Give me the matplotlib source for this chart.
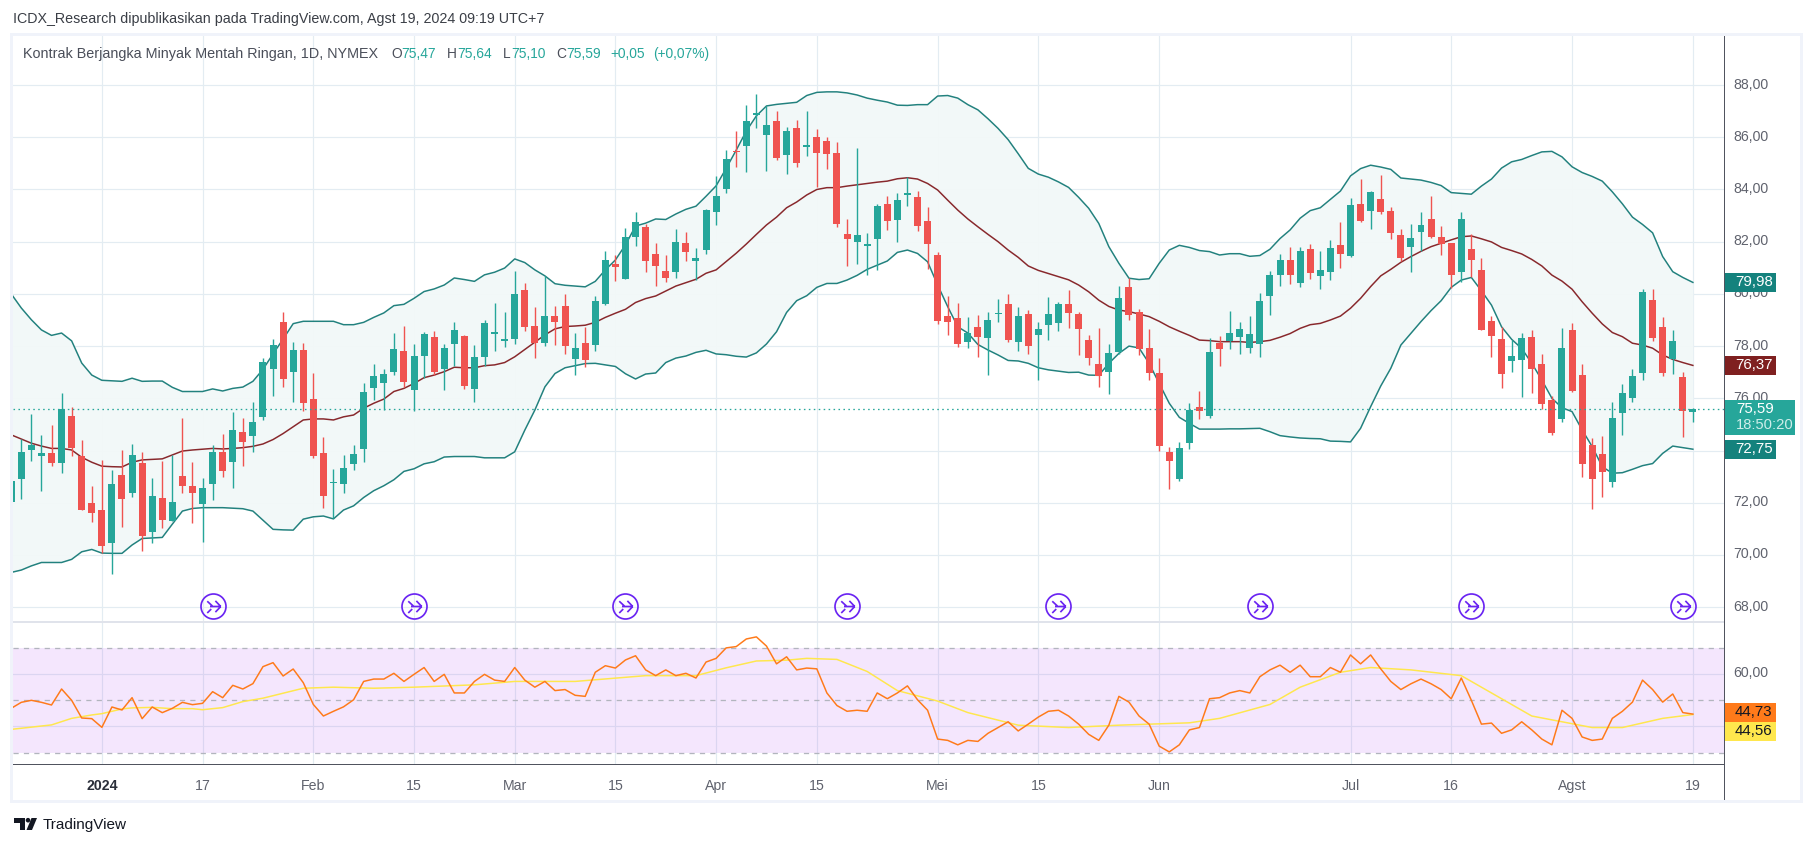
import matplotlib
matplotlib.use("Agg")
import matplotlib.pyplot as plt
from matplotlib.path import Path
from matplotlib.patches import Rectangle, Polygon, Circle
from matplotlib.transforms import IdentityTransform, ScaledTranslation

W, H = 1814, 846
plt.rcParams['font.family'] = ['Liberation Sans', 'DejaVu Sans']

open_ = [72.04,72.92,74.02,73.79,73.91,73.52,75.32,73.79,71.99,71.72,70.46,73.06,72.37,73.52,70.88,72.18,71.30,73.02,72.64,71.95,
72.72,73.94,73.56,74.71,74.56,75.29,77.12,78.92,77.01,77.85,75.97,73.91,72.75,72.72,73.48,74.06,76.40,76.59,77.01,77.81,
76.32,77.62,78.35,77.12,78.08,78.39,76.36,77.58,78.47,78.20,78.27,80.15,78.77,78.12,79.15,79.54,77.50,78.12,78.04,79.61,
81.15,80.57,82.18,82.56,81.53,80.88,80.84,81.95,81.26,81.68,83.14,84.02,85.48,85.67,86.86,86.09,86.63,85.32,86.36,85.62,
86.00,85.85,85.40,82.29,81.99,81.83,82.10,83.44,82.83,83.79,83.71,82.79,81.49,79.15,79.08,78.16,78.73,78.31,79.23,79.61,
78.16,79.23,78.42,78.81,78.88,79.61,79.23,78.23,77.31,77.01,77.77,80.26,79.31,77.93,76.97,73.96,72.91,74.29,75.67,75.32,
78.12,78.20,78.35,77.93,78.08,79.92,80.72,81.30,80.42,81.72,80.69,80.84,81.87,81.45,83.45,83.18,83.64,83.18,82.26,81.80,
82.37,82.87,82.18,81.95,80.84,81.72,80.92,78.96,78.27,77.43,77.47,78.35,77.31,75.93,75.21,78.62,76.89,74.21,73.87,72.79,
75.44,76.01,76.97,79.77,78.73,77.51,76.82,75.47]
high = [73.00,74.43,75.40,74.60,74.98,76.20,75.67,74.40,72.64,73.64,73.25,74.02,74.25,73.94,72.95,73.60,73.83,75.25,73.56,72.95,
74.21,74.63,75.48,75.25,75.86,77.55,78.27,79.31,78.16,78.12,76.97,74.52,73.29,73.83,74.21,76.59,77.31,77.12,78.50,78.77,
78.08,78.54,78.58,78.08,78.93,78.43,78.04,79.00,79.65,79.31,80.88,80.42,79.50,80.69,79.54,80.00,78.50,78.73,79.92,81.64,
81.49,82.53,83.14,82.68,81.95,81.49,82.49,82.37,81.76,83.25,84.52,85.51,86.24,87.24,87.66,87.20,87.01,86.40,86.66,87.00,
86.30,86.00,85.80,82.87,85.60,82.33,83.44,83.75,83.87,84.48,83.94,83.33,81.60,79.92,79.65,79.11,79.19,79.31,79.80,80.00,
79.50,79.38,78.92,79.88,79.69,80.15,79.31,78.42,78.69,78.08,80.30,80.61,79.42,78.66,77.54,74.13,74.33,75.82,76.28,78.30,
78.39,79.35,78.92,79.15,80.03,80.88,81.53,81.80,81.80,81.91,81.64,82.07,82.75,83.67,84.40,83.94,84.56,83.33,82.49,82.68,
83.14,83.75,82.60,81.95,83.14,82.30,81.38,79.15,78.73,78.23,78.50,78.62,77.70,76.10,78.69,78.89,77.32,74.48,74.56,75.86,
76.55,77.12,80.19,80.19,79.12,78.62,77.01,75.64]
low = [71.90,72.16,73.61,72.45,73.41,73.14,73.79,71.72,71.26,70.06,69.27,71.07,72.22,70.15,70.46,71.03,71.30,72.37,71.22,70.50,
72.10,72.99,72.57,73.41,73.94,75.17,76.09,76.43,75.86,75.52,73.71,71.80,71.41,72.37,73.25,73.56,75.94,75.55,76.89,76.43,
75.51,76.78,76.90,76.32,77.24,76.36,75.86,77.24,77.81,77.97,78.08,78.58,77.54,78.00,78.04,77.70,76.90,77.20,77.80,79.58,
80.50,80.57,81.84,80.84,80.30,80.46,80.61,81.26,80.53,81.53,82.64,83.87,84.86,84.67,86.36,84.71,85.13,84.60,84.86,85.28,
84.10,84.79,82.56,81.07,81.15,80.72,80.92,82.45,82.00,83.37,82.41,80.95,78.85,78.42,77.97,77.93,77.58,76.89,78.92,78.16,
77.81,77.70,76.70,78.23,78.58,78.69,77.66,77.27,76.43,76.16,77.70,79.00,77.66,76.70,74.00,72.54,72.85,74.06,75.21,75.25,
77.24,77.89,77.70,77.74,77.58,79.19,80.30,80.38,80.26,80.57,80.19,80.53,81.00,81.41,82.75,82.49,83.06,82.10,81.26,80.84,
81.64,82.14,81.49,80.23,80.46,80.65,78.62,77.58,76.39,77.00,76.05,76.20,75.60,74.60,75.10,76.24,72.99,71.76,72.22,72.60,
74.59,75.86,76.70,78.20,76.86,76.93,74.52,75.10]
close = [72.83,73.94,74.21,73.91,73.52,75.59,74.10,71.72,71.60,70.34,72.72,72.14,73.83,70.72,72.26,71.34,72.03,72.64,72.37,72.56,
73.94,73.22,74.79,74.33,75.09,77.39,78.04,76.74,77.85,75.82,73.79,72.26,72.79,73.33,73.87,76.24,76.85,76.93,77.89,76.62,
77.62,78.47,77.01,77.93,78.62,76.47,77.58,78.89,78.54,78.27,80.00,78.73,78.12,79.15,78.92,78.00,77.93,77.45,79.73,81.30,
81.03,82.18,82.76,81.26,81.07,80.61,81.99,81.61,81.38,83.22,83.75,85.17,85.44,86.63,86.93,86.47,85.21,86.24,85.02,85.72,
85.41,85.36,82.68,82.10,82.26,81.91,83.37,82.79,83.60,83.87,82.60,81.91,78.96,78.92,78.08,78.50,78.35,79.00,79.27,78.23,
79.15,78.00,78.65,79.23,79.61,79.27,78.65,77.54,76.85,77.74,79.84,79.19,77.89,76.97,74.17,73.60,74.10,75.55,75.51,77.77,
77.89,78.50,78.66,78.46,79.73,80.72,81.30,80.72,81.64,80.80,80.92,81.76,81.53,83.41,82.79,83.90,83.14,82.33,81.38,82.14,
82.64,82.18,81.91,80.72,82.87,81.30,78.62,78.39,76.93,77.62,78.31,77.12,75.78,74.68,77.93,76.28,73.48,72.91,73.18,75.25,
76.20,76.86,80.07,78.31,76.97,78.20,75.51,75.59]

bb_upper = [80.0,79.46,79.01,78.62,78.41,78.50,78.20,77.35,76.89,76.69,76.67,76.65,76.77,76.65,76.66,76.66,76.42,76.26,76.26,76.26,
76.36,76.28,76.38,76.43,76.65,77.11,77.70,78.27,78.86,78.95,78.95,78.95,78.95,78.82,78.82,78.91,79.10,79.27,79.55,79.60,
79.83,80.09,80.19,80.34,80.61,80.55,80.48,80.73,80.83,80.99,81.34,81.20,80.92,80.69,80.39,80.33,80.30,80.27,80.48,80.92,
81.30,81.88,82.60,82.71,82.87,82.85,83.06,83.24,83.36,83.74,84.14,84.81,85.51,86.24,86.82,87.20,87.26,87.30,87.34,87.60,
87.72,87.74,87.74,87.70,87.62,87.50,87.42,87.35,87.23,87.22,87.25,87.25,87.58,87.60,87.50,87.25,87.05,86.71,86.34,85.91,
85.37,84.81,84.59,84.47,84.29,84.08,83.70,83.28,82.70,81.81,81.17,80.60,80.55,80.58,81.17,81.68,81.86,81.78,81.66,81.62,
81.49,81.54,81.54,81.44,81.47,81.71,82.12,82.45,82.90,83.19,83.30,83.62,83.94,84.52,84.80,84.93,84.86,84.77,84.44,84.40,
84.36,84.27,84.15,83.88,83.85,83.82,84.13,84.40,84.82,85.06,85.15,85.30,85.44,85.46,85.25,84.87,84.65,84.50,84.32,83.91,
83.45,82.94,82.66,82.34,81.43,80.85,80.63,80.44]
bb_mid = [74.60,74.44,74.28,74.17,74.08,74.08,74.02,73.74,73.55,73.40,73.38,73.37,73.55,73.64,73.66,73.68,73.83,73.98,74.02,74.05,
74.08,74.06,74.08,74.11,74.16,74.25,74.42,74.65,74.91,75.17,75.21,75.21,75.17,75.29,75.36,75.62,75.81,75.97,76.26,76.38,
76.57,76.79,76.89,77.02,77.19,77.17,77.17,77.25,77.28,77.37,77.59,77.87,78.15,78.43,78.66,78.75,78.77,78.80,78.91,79.10,
79.26,79.41,79.67,79.82,79.92,80.11,80.30,80.43,80.56,80.79,80.92,81.24,81.56,81.91,82.28,82.64,82.94,83.30,83.52,83.79,
84.00,84.07,84.07,84.13,84.18,84.23,84.28,84.32,84.41,84.45,84.40,84.23,83.98,83.59,83.21,82.87,82.57,82.28,82.00,81.68,
81.40,81.07,80.90,80.78,80.66,80.54,80.34,80.08,79.76,79.52,79.38,79.32,79.23,79.13,78.95,78.74,78.57,78.41,78.23,78.21,
78.17,78.17,78.17,78.14,78.17,78.22,78.34,78.48,78.68,78.82,78.87,79.00,79.15,79.45,79.83,80.28,80.69,80.94,81.21,81.43,
81.63,81.81,81.94,82.07,82.19,82.22,82.11,81.99,81.78,81.66,81.53,81.32,81.07,80.72,80.49,80.18,79.70,79.26,78.85,78.52,
78.36,78.11,78.04,77.92,77.66,77.49,77.37,77.26]
bb_lower = [69.33,69.42,69.58,69.71,69.71,69.71,69.83,70.12,70.21,70.07,70.06,70.06,70.38,70.63,70.65,70.67,71.18,71.68,71.78,71.81,
71.81,71.81,71.79,71.77,71.68,71.33,70.98,70.96,70.95,71.37,71.46,71.49,71.38,71.72,71.88,72.20,72.46,72.65,72.88,73.20,
73.30,73.49,73.57,73.75,73.77,73.77,73.77,73.72,73.72,73.72,73.95,74.78,75.55,76.44,76.95,77.17,77.25,77.33,77.34,77.28,
77.22,76.94,76.74,76.93,76.97,77.37,77.54,77.62,77.76,77.84,77.70,77.67,77.61,77.58,77.74,78.08,78.55,79.29,79.74,79.93,
80.25,80.40,80.40,80.53,80.71,80.94,81.10,81.26,81.59,81.68,81.55,81.23,80.34,79.51,78.74,78.50,78.06,77.85,77.66,77.45,
77.43,77.34,77.17,77.09,77.04,76.99,77.00,76.89,76.88,77.34,77.72,78.00,77.93,77.34,76.57,75.81,75.27,75.04,74.82,74.82,
74.82,74.83,74.83,74.84,74.85,74.72,74.57,74.52,74.48,74.46,74.45,74.36,74.35,74.33,74.85,75.68,76.47,77.15,78.04,78.49,
78.94,79.36,79.74,80.25,80.53,80.63,80.12,79.57,78.74,78.26,77.91,77.34,76.70,76.00,75.64,75.49,74.79,74.15,73.38,73.13,
73.15,73.28,73.42,73.50,73.89,74.17,74.11,74.05]

rsi = [46.93,49.22,49.99,49.22,48.20,54.31,49.99,43.24,42.99,39.68,47.44,46.30,51.00,42.99,47.44,45.28,46.93,49.22,48.33,48.84,
53.29,51.00,55.71,54.31,56.35,62.84,64.36,59.27,61.94,56.73,48.4,44.0,45.8,47.5,50.2,57.2,58.1,58.1,60.3,57.2,
59.9,62.5,57.2,59.9,52.8,52.8,57.2,59.9,57.7,57.2,62.5,57.7,55.0,57.2,53.7,54.1,51.9,51.5,60.7,63.2,
62.3,65.4,67.0,61.6,59.4,61.6,59.4,60.3,58.5,64.6,66.0,70.0,70.5,73.4,74.2,70.7,63.9,66.6,61.6,62.3,
62.0,52.8,48.0,45.8,46.2,45.8,52.8,50.6,52.8,55.5,50.2,46.2,35.2,34.7,33.0,34.7,34.3,37.4,39.6,41.8,
38.3,40.9,43.6,45.8,46.2,44.0,40.9,37.0,34.7,40.5,51.5,49.3,44.0,40.9,32.5,30.3,33.0,38.7,39.6,50.6,
51.0,52.8,53.7,52.8,59.0,61.6,63.4,60.7,63.4,59.0,59.0,62.5,60.7,67.3,63.9,67.3,62.0,57.2,54.1,56.3,
58.1,56.3,54.1,50.6,58.5,50.0,40.9,41.3,37.4,38.7,41.8,38.7,35.2,33.0,46.2,43.1,36.0,34.7,35.2,43.1,
45.8,49.3,57.7,54.1,49.3,52.4,45.3,44.73]
rsi_ma_idx = [0,4,6,8,9,11,12,14,16,18,19,21,23,25,27,29,32,36,40,46,50,56,63,68,71,74,77,79,82,85,88,92,95,100,105,110,117,120,125,128,132,135,139,144,146,148,151,157,160,164,167]
rsi_ma = [38.9,40.6,43.1,44.4,44.9,46.7,47.1,47.3,46.8,46.8,46.4,47.2,49.5,50.8,52.7,54.6,55.0,54.6,55.0,55.9,57.2,57.2,59.4,59.4,62.4,65.0,65.3,66.0,65.6,61.0,53.7,49.7,45.3,40.5,39.6,40.5,41.4,43.1,48.4,55.0,60.7,62.5,61.6,59.4,55.0,50.6,44.0,39.6,39.6,43.1,44.56]

time_ticks = [9,19,30,40,50,60,70,80,92,102,114,133,143,155,167]
time_labels = ['2024','17','Feb','15','Mar','15','Apr','15','Mei','15','Jun','Jul','16','Agst','19']
price_ticks = [68,70,72,74,76,78,80,82,84,86,88]
price_labels = ['68,00','70,00','72,00','74,00','76,00','78,00','80,00','82,00','84,00','86,00','88,00']
rsi_ticks = [60]
rsi_labels = ['60,00']
event_idx = [20,40,61,83,104,124,145,166]
event_price = 68.05

UP, DOWN = '#26a69a', '#ef5350'
GRID = '#e3ecf2'
TXT = '#5f626d'
PX = 72 / 100

def rect(x0, y0, x1, y1):
    return [x0 / W, 1 - y1 / H, (x1 - x0) / W, (y1 - y0) / H]

fig = plt.figure(figsize=(W / 100, H / 100), dpi=100, facecolor='white')
ax = fig.add_axes(rect(13, 36, 1724, 622))
ax2 = fig.add_axes(rect(13, 622, 1724, 765))
xlim = (0.176, 170.09)
for a in (ax, ax2):
    a.set_xlim(*xlim)
    a.set_xticks(time_ticks)
    a.grid(True, axis='both', color=GRID, lw=1.2 * PX, zorder=0)
    a.set_axisbelow(True)
    for s in ('top', 'left', 'bottom', 'right'):
        a.spines[s].set_visible(False)
    a.yaxis.tick_right()
    a.tick_params(length=0, labelsize=10.2, labelcolor=TXT, pad=6.8)
ax.set_ylim(67.43, 89.88)
ax.set_yticks(price_ticks, labels=price_labels)
ax.tick_params(axis='x', labelbottom=False)
up_shift = ScaledTranslation(0, 2 * PX / 72, fig.dpi_scale_trans)
for lab in ax.get_yticklabels():
    lab.set_transform(lab.get_transform() + up_shift)

idx = list(range(len(close)))
ax.fill_between(idx, bb_lower, bb_upper, color='#f2f8f8', lw=0, alpha=0.95, zorder=1)
ax.plot(idx, bb_upper, color='#22817e', lw=1.5 * PX, zorder=2)
ax.plot(idx, bb_lower, color='#22817e', lw=1.5 * PX, zorder=2)
ax.plot(idx, bb_mid, color='#88282c', lw=1.5 * PX, zorder=2)

colors = [UP if c >= o else DOWN for o, c in zip(open_, close)]
ax.vlines(idx, low, high, colors=colors, lw=1.4 * PX, zorder=3)
bottoms = [min(o, c) for o, c in zip(open_, close)]
heights = [max(abs(o - c), 0.05) for o, c in zip(open_, close)]
ax.bar(idx, heights, bottom=bottoms, width=0.695, color=colors, lw=0, zorder=4)

ax.axhline(close[-1], color=UP, lw=1.3 * PX, ls=(0, (1.2, 2.6)), zorder=5)

# event markers
verts = []
codes = []
circ = Path.unit_circle()
verts += list(circ.vertices)
codes += list(circ.codes)
for seg in ([(-0.28, 0.0), (0.58, 0.0)], [(0.15, 0.45), (0.58, 0.0)], [(0.15, -0.45), (0.58, 0.0)],
            [(-0.5, 0.42), (-0.1, 0.05)], [(-0.5, -0.52), (-0.18, -0.2)]):
    verts += seg
    codes += [Path.MOVETO, Path.LINETO]
icon = Path(verts, codes)
ax.plot(event_idx, [event_price] * len(event_idx), ls='none', marker=icon, ms=25 * PX,
        mfc='none', mec='#6a24f2', mew=1.7 * PX, zorder=6)

# RSI pane
ax2.set_ylim(25.3, 79.88)
ax2.set_yticks(rsi_ticks, labels=rsi_labels)
ax2.set_yticks([40], minor=True)
ax2.yaxis.grid(True, which='minor', color=GRID, lw=1.2 * PX, zorder=0)
ax2.tick_params(axis='y', which='minor', length=0)
ax2.axhspan(30, 70, color='#a020f0', alpha=0.11, lw=0, zorder=1)
for lev in (30, 50, 70):
    ax2.axhline(lev, color='#b2b5be', lw=1.3 * PX, ls=(0, (4, 4)), zorder=2)
ax2.plot(rsi_ma_idx, rsi_ma, color='#ffe74d', lw=1.5 * PX, zorder=3)
ax2.plot(idx, rsi, color='#ff7a1a', lw=1.5 * PX, zorder=4)
ax2.set_xticks(time_ticks, labels=time_labels)
ax2.tick_params(axis='x', labelsize=10.2, labelcolor=TXT, pad=10)
ax2.get_xticklabels()[0].set_fontweight('bold')
ax2.get_xticklabels()[0].set_color('#2a2e39')
up_shift2 = ScaledTranslation(0, 3 * PX / 72, fig.dpi_scale_trans)
for lab in ax2.get_yticklabels():
    lab.set_transform(lab.get_transform() + up_shift2)

# frame and separators
I = IdentityTransform()
def pxrect(x0, y0, x1, y1, **kw):
    fig.add_artist(Rectangle((x0, H - y1), x1 - x0, y1 - y0, transform=I, **kw))
for r in ((10, 33, 1803, 36), (10, 33, 13, 803), (1800, 33, 1803, 803), (10, 800, 1803, 803)):
    pxrect(*r, fc='#f0f3fa', ec='none', zorder=1)
pxrect(13, 621, 1724, 623, fc='#e0e3eb', ec='none', zorder=8)
pxrect(13, 764, 1724, 765, fc='#50535e', ec='none', zorder=8)
pxrect(1724, 36, 1725, 800, fc='#50535e', ec='none', zorder=8)

# price tags
fig.canvas.draw()
def ypx(a, v):
    return H - a.transData.transform((1, v))[1]
def tag(y, label, fc, tc, x1=1776, h=19):
    pxrect(1725, y - h / 2, x1, y + h / 2, fc=fc, ec='none', zorder=9)
    fig.text(1735 / W, 1 - y / H, label, color=tc, fontsize=10.8, va='center', ha='left', zorder=10)

tag(ypx(ax, bb_upper[-1]), '79,98', '#14827d', 'white')
tag(ypx(ax, bb_mid[-1]), '76,37', '#7f2020', 'white')
tag(ypx(ax, bb_lower[-1]), '72,75', '#14827d', 'white')
yl = ypx(ax, close[-1])
pxrect(1725, yl - 9.5, 1795, yl + 25.5, fc=UP, ec='none', zorder=9)
fig.text(1736 / W, 1 - yl / H, '75,59', color='white', fontsize=10.8, va='center', zorder=10)
fig.text(1736 / W, 1 - (yl + 15.5) / H, '18:50:20', color='#cfeeea', fontsize=10.6, va='center', zorder=10)
tag(712, '44,73', '#ff7a1a', '#131722')
tag(731, '44,56', '#ffe74d', '#131722')

# header and legend
fig.text(13 / W, 1 - 18.5 / H, 'ICDX_Research dipublikasikan pada TradingView.com, Agst 19, 2024 09:19 UTC+7',
         color='#3a3e46', fontsize=10.3, va='center')
LEG = '#4a4e59'
ly = 1 - 54 / H
legend_parts = [(23, 'Kontrak Berjangka Minyak Mentah Ringan, 1D, NYMEX', LEG, 10.4), (391, 'O', LEG, 9.9), (401, '75,47', UP, 9.9),
                (447, 'H', LEG, 9.9), (457, '75,64', UP, 9.9), (503, 'L', LEG, 9.9), (511, '75,10', UP, 9.9), (556, 'C', LEG, 9.9),
                (566, '75,59', UP, 9.9), (610, '+0,05', UP, 9.9), (653, '(+0,07%)', UP, 9.9)]
for x, s, c, fs in legend_parts:
    fig.text(x / W, ly, s, color=c, fontsize=fs, va='center')

# footer logo
LOGO = '#131722'
pxrect(14, 818, 24.5, 822.5, fc=LOGO, ec='none')
pxrect(19.5, 818, 24.5, 830, fc=LOGO, ec='none')
fig.add_artist(Circle((28.0, H - 820.2), 2.3, transform=I, fc=LOGO, ec='none'))
fig.add_artist(Polygon([(31.5, H - 818), (37, H - 818), (32, H - 830), (26.5, H - 830)], closed=True, transform=I, fc=LOGO, ec='none'))
fig.text(43 / W, 1 - 824.5 / H, 'TradingView', color=LOGO, fontsize=11, va='center', fontweight='medium')

fig.savefig('out.png', dpi=100, facecolor='white')
